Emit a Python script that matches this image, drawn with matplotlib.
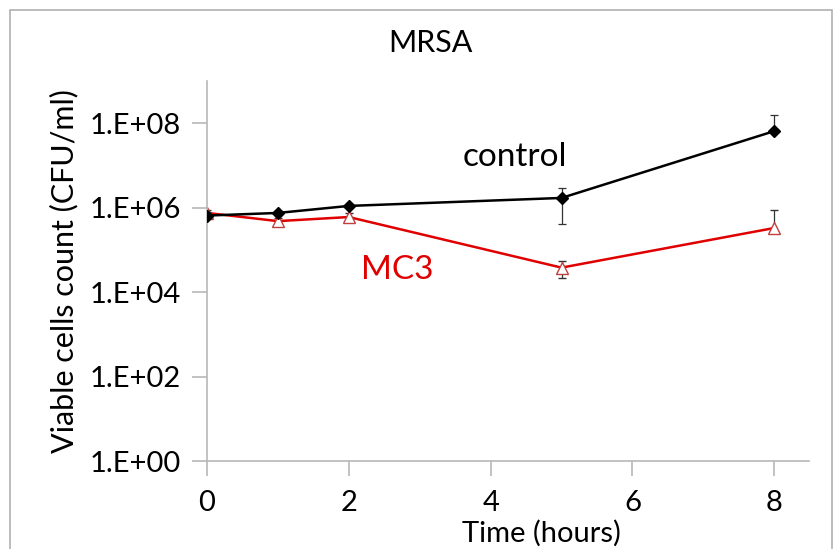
import matplotlib
matplotlib.use("Agg")
import matplotlib.pyplot as plt
from matplotlib.patches import Rectangle
import numpy as np

plt.rcParams['font.family'] = ['Lato', 'DejaVu Sans']

# data
hours = [0, 1, 2, 5, 8]
control = [6.5e5, 7.5e5, 1.1e6, 1.7e6, 6.5e7]
control_lo = [1.0e5, 0.8e5, 0.8e5, 1.3e6, 2.0e6]
control_hi = [1.5e5, 0.8e5, 1.0e5, 1.2e6, 9.5e7]
mc3 = [7.5e5, 4.8e5, 6.0e5, 3.8e4, 3.3e5]
mc3_lo = [1.5e5, 1.0e5, 1.5e5, 1.6e4, 5.0e4]
mc3_hi = [1.5e5, 0.8e5, 1.5e5, 1.7e4, 5.4e5]

yticks = [1e0, 1e2, 1e4, 1e6, 1e8]
ytick_labels = ["1.E+00", "1.E+02", "1.E+04", "1.E+06", "1.E+08"]
xticks = [0, 2, 4, 6, 8]

fig = plt.figure(figsize=(8.34, 5.49), dpi=100)
ax = fig.add_axes([207 / 834, 1 - 461 / 549, (809 - 207) / 834, (461 - 81) / 549])

# figure border
fig.patches.append(Rectangle((10 / 834, -0.02), 822 / 834, 1 - 10 / 549 + 0.02,
                             transform=fig.transFigure, fill=False,
                             edgecolor="#b0b0b0", linewidth=1.2))

ax.errorbar(hours, mc3, yerr=[mc3_lo, mc3_hi], color="#e00000", lw=1.8,
            marker="^", ms=9, mfc="white", mec="#c04040", mew=1.0,
            ecolor="#333333", elinewidth=0.9, capsize=3, capthick=0.9, zorder=2)
ax.errorbar(hours, control, yerr=[control_lo, control_hi], color="black", lw=1.8,
            marker="D", ms=6.5, mfc="black", mec="black",
            ecolor="#333333", elinewidth=0.9, capsize=3, capthick=0.9, zorder=3)

ax.set_yscale("log")
ax.set_ylim(1, 1e9)
ax.set_xlim(0, 8.49)
ax.set_yticks(yticks)
ax.set_yticklabels(ytick_labels)
ax.minorticks_off()
ax.set_xticks(xticks)

for s in ["top", "right"]:
    ax.spines[s].set_visible(False)
for s in ["left", "bottom"]:
    ax.spines[s].set_color("#b8b8b8")
    ax.spines[s].set_linewidth(1.2)
ax.tick_params(axis="both", direction="out", length=11, width=1.2, color="#b8b8b8",
               labelsize=21, labelcolor="black")
ax.tick_params(axis="x", pad=10)
ax.tick_params(axis="y", pad=8)

fig.text(430 / 834, 1 - 43 / 549, "MRSA", fontsize=22, ha="center", va="center")
ax.set_ylabel("Viable cells count (CFU/ml)", fontsize=22, labelpad=8)
fig.text(541 / 834, 1 - 533 / 549, "Time (hours)", fontsize=21, ha="center", va="center")

fig.text(515 / 834, 1 - 157 / 549, "control", fontsize=24, color="black",
         ha="center", va="center")
fig.text(397 / 834, 1 - 270 / 549, "MC3", fontsize=24, color="#e00000",
         ha="center", va="center")

fig.savefig("out.png", dpi=100)
